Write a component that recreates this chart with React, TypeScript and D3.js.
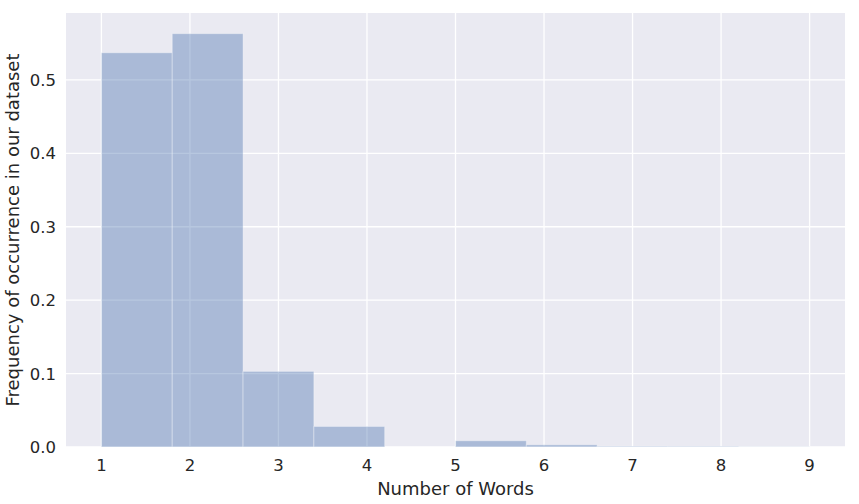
import React from "react";
import * as d3 from "d3";

const binEdges = [1.0, 1.8, 2.6, 3.4, 4.2, 5.0, 5.8, 6.6, 7.4, 8.2, 9.0];
const binHeights = [0.537, 0.563, 0.103, 0.028, 0.0, 0.0085, 0.003, 0.0009, 0.0008, 0.0003];
const xTicks = [1, 2, 3, 4, 5, 6, 7, 8, 9];
const yTicks = [0.0, 0.1, 0.2, 0.3, 0.4, 0.5];

const W = 859, H = 504;
const m = { left: 66, right: 14, top: 13, bottom: 57 };

export default function App() {
  const x = d3.scaleLinear().domain([0.6, 9.4]).range([m.left, W - m.right]);
  const y = d3.scaleLinear().domain([0, 0.563 * 1.05]).range([H - m.bottom, m.top]);
  const font = "DejaVu Sans, sans-serif";
  return (
    <svg width={W} height={H} style={{ position: "absolute", left: 0, top: 0 }}>
      <rect x={0} y={0} width={W} height={H} fill="white" />
      <rect x={m.left} y={m.top} width={W - m.left - m.right} height={H - m.top - m.bottom} fill="#eaeaf2" />
      {xTicks.map((t) => (
        <line key={"gx" + t} x1={x(t)} x2={x(t)} y1={m.top} y2={H - m.bottom} stroke="white" strokeWidth={1.3} />
      ))}
      {yTicks.map((t) => (
        <line key={"gy" + t} x1={m.left} x2={W - m.right} y1={y(t)} y2={y(t)} stroke="white" strokeWidth={1.3} />
      ))}
      {binHeights.map((h, i) => (
        h > 0 ? (
          <rect key={"b" + i} x={x(binEdges[i])} width={x(binEdges[i + 1]) - x(binEdges[i])}
            y={y(h)} height={y(0) - y(h)} fill="#4c72b0" fillOpacity={0.4}
            stroke="#ffffff" strokeOpacity={0.35} strokeWidth={1} />
        ) : null
      ))}
      {xTicks.map((t) => (
        <text key={"tx" + t} x={x(t)} y={H - m.bottom + 24} textAnchor="middle" fontFamily={font} fontSize={16.5} fill="#262626">{t}</text>
      ))}
      {yTicks.map((t) => (
        <text key={"ty" + t} x={m.left - 10} y={y(t) + 6} textAnchor="end" fontFamily={font} fontSize={16.5} fill="#262626">{t.toFixed(1)}</text>
      ))}
      <text x={(m.left + W - m.right) / 2} y={H - 9} textAnchor="middle" fontFamily={font} fontSize={18} fill="#262626">Number of Words</text>
      <text transform={`translate(19,${(m.top + H - m.bottom) / 2}) rotate(-90)`} textAnchor="middle" fontFamily={font} fontSize={18} fill="#262626">Frequency of occurrence in our dataset</text>
    </svg>
  );
}
